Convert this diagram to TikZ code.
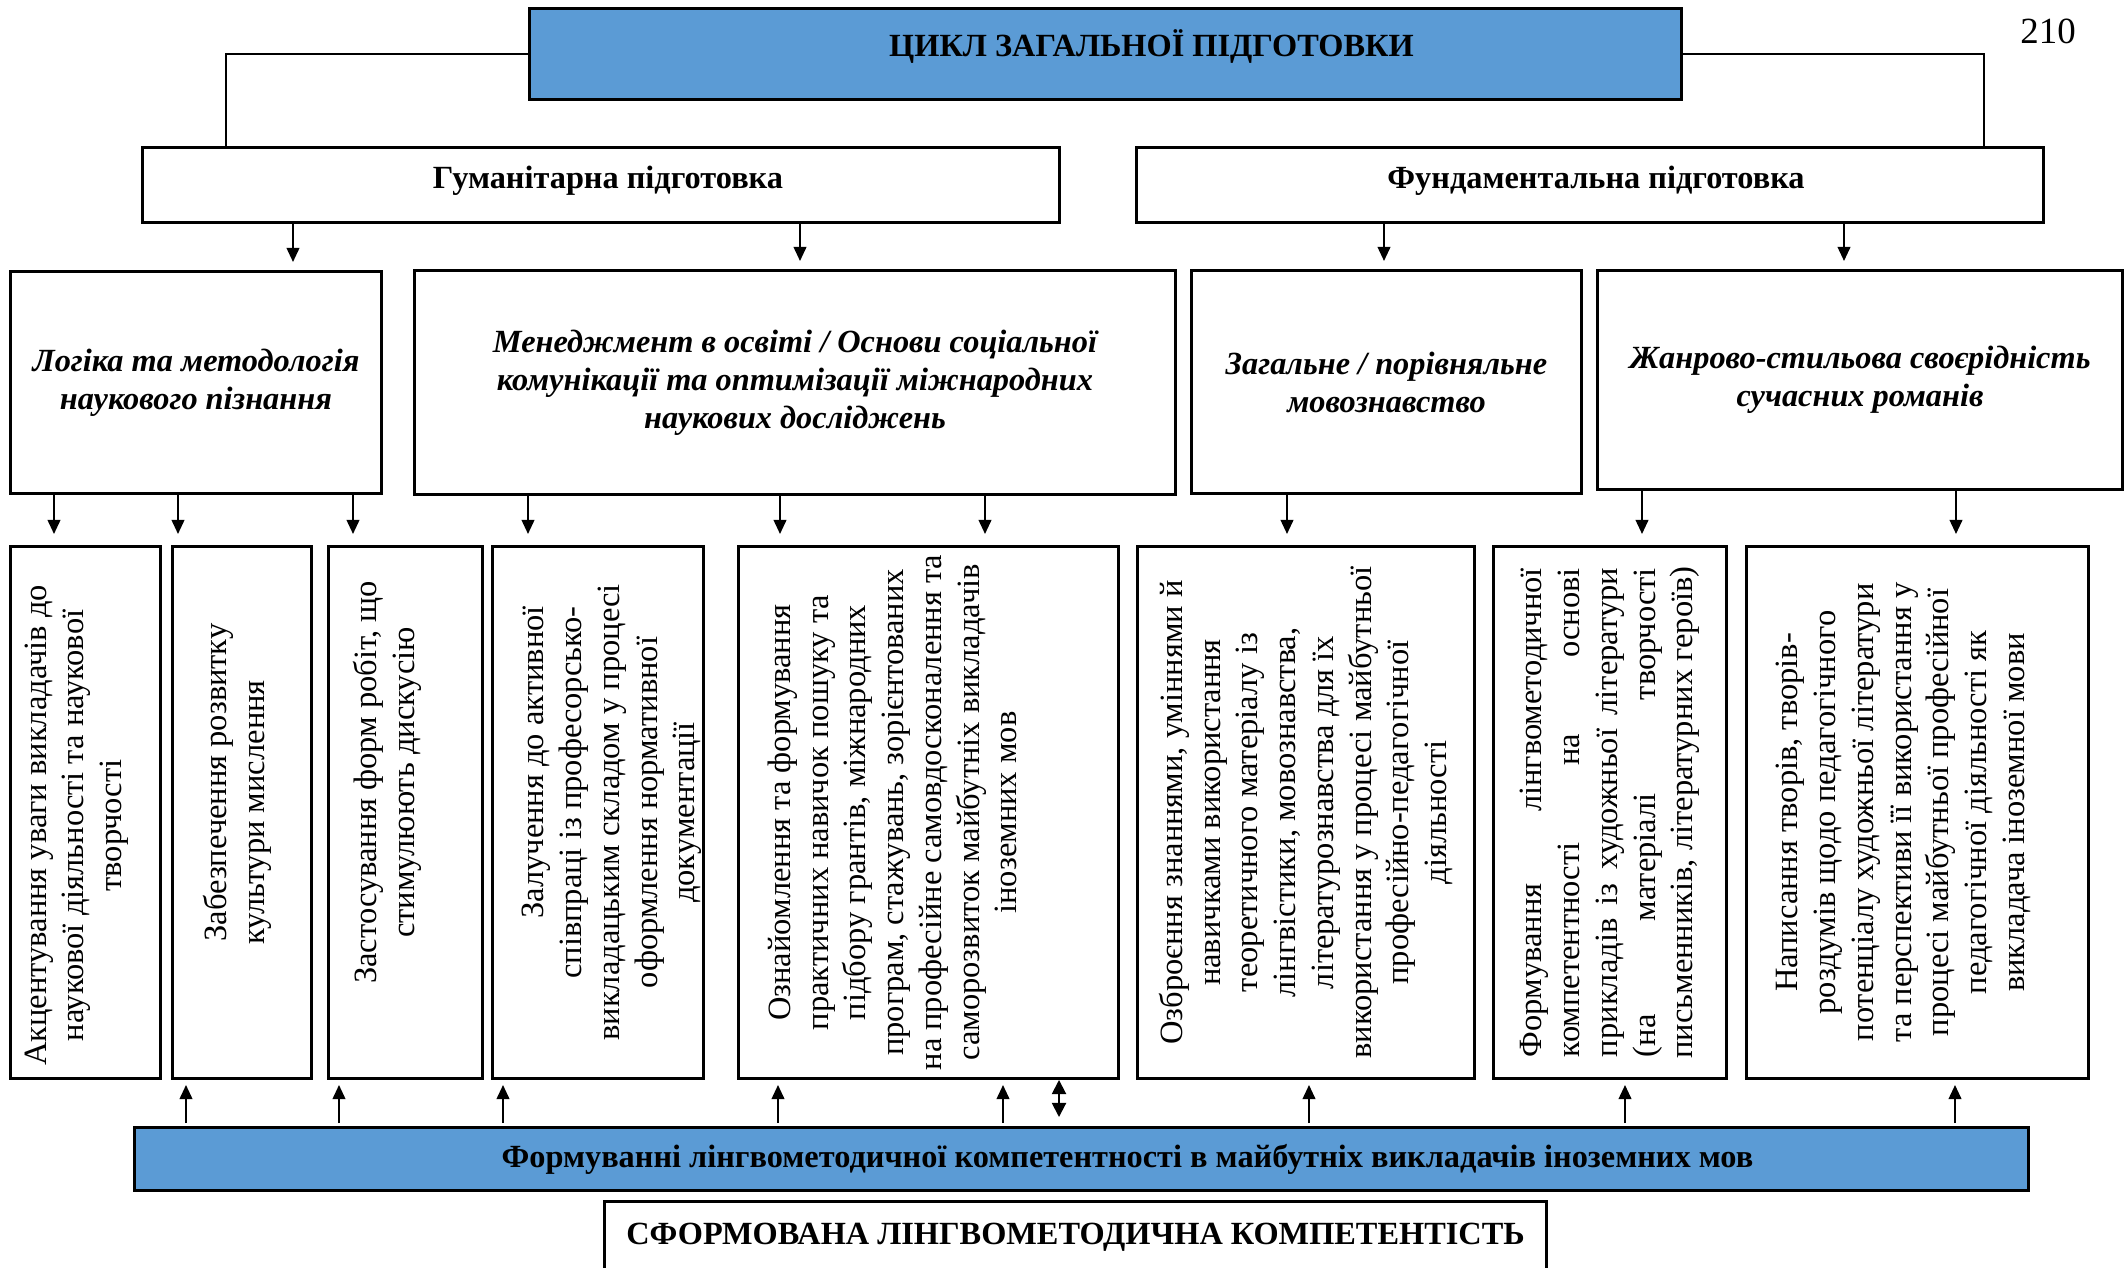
\documentclass[tikz,border=0pt]{standalone}
\usepackage{fontspec}
\setmainfont{Liberation Serif}
\usetikzlibrary{arrows.meta}
\definecolor{barblue}{HTML}{5B9BD5}
\tikzset{
    box/.style={draw, line width=0.85pt, anchor=north west, inner sep=0pt},
    hdr/.style={font=\fontsize{9.2pt}{10.9pt}\selectfont\bfseries},
    subj/.style={align=center, font=\fontsize{9.2pt}{10.8pt}\selectfont\bfseries\itshape},
    vtext/.style={rotate=90, align=center, inner sep=0pt, font=\fontsize{9.25pt}{10.75pt}\selectfont},
    link/.style={line width=0.55pt},
    arr/.style={link, -{Triangle[length=4pt,width=3.6pt]}},
}
\begin{document}
\begin{tikzpicture}
                \clip (0,0) rectangle (21.25,-12.68);

                \node[box, fill=barblue, hdr, minimum width=11.52cm, minimum height=0.91cm, text depth=0.21cm] (cycle) at (5.28,-0.07) {\hspace*{0.92cm}ЦИКЛ ЗАГАЛЬНОЇ ПІДГОТОВКИ};
                \node[font=\fontsize{10.5pt}{12pt}\selectfont] (page) at (20.48,-0.31) {210};

                \node[box, hdr, minimum width=9.17cm, minimum height=0.75cm, text depth=0.15cm] (hum) at (1.41,-1.46) {\hspace*{0.14cm}Гуманітарна підготовка};
                \node[box, hdr, minimum width=9.07cm, minimum height=0.75cm, text depth=0.15cm] (fund) at (11.35,-1.46) {\hspace*{0.12cm}Фундаментальна підготовка};

                \draw[link] (cycle.west) -| (2.26,0 |- hum.north);
                \draw[link] (cycle.east) -| (19.84,0 |- fund.north);

                \node[box, subj, minimum width=3.71cm, minimum height=2.22cm] (logic) at (0.09,-2.70) {Логіка та методологія\\наукового пізнання};
                \node[box, subj, minimum width=7.61cm, minimum height=2.24cm] (manage) at (4.13,-2.69) {Менеджмент в освіті / Основи соціальної\\комунікації та оптимізації міжнародних\\наукових досліджень};
                \node[box, subj, minimum width=3.90cm, minimum height=2.23cm] (ling) at (11.90,-2.69) {Загальне / порівняльне\\мовознавство};
                \node[box, subj, minimum width=5.25cm, minimum height=2.19cm] (genre) at (15.96,-2.69) {Жанрово-стильова своєрідність\\сучасних романів};

                \foreach \x/\n in {2.93/logic, 8.00/manage}
                    \draw[arr, shorten >=0.08cm] (\x,0 |- hum.south) -- (\x,0 |- \n.north);
                \foreach \x/\n in {13.84/ling, 18.44/genre}
                    \draw[arr, shorten >=0.08cm] (\x,0 |- fund.south) -- (\x,0 |- \n.north);

                \node[box, minimum width=1.50cm, minimum height=5.32cm] (a) at (0.09,-5.45) {};
                \node[box, minimum width=1.39cm, minimum height=5.32cm] (b) at (1.71,-5.45) {};
                \node[box, minimum width=1.54cm, minimum height=5.32cm] (c) at (3.27,-5.45) {};
                \node[box, minimum width=2.11cm, minimum height=5.32cm] (d) at (4.91,-5.45) {};
                \node[box, minimum width=3.80cm, minimum height=5.32cm] (e) at (7.37,-5.45) {};
                \node[box, minimum width=3.37cm, minimum height=5.32cm] (f) at (11.36,-5.45) {};
                \node[box, minimum width=2.33cm, minimum height=5.32cm] (g) at (14.92,-5.45) {};
                \node[box, minimum width=3.42cm, minimum height=5.32cm] (h) at (17.45,-5.45) {};

                \node[vtext] (a-t) at ([xshift=-0.09cm, yshift=-0.13cm]a.center) {Акцентування уваги викладачів до\\наукової діяльності та наукової\\творчості};
                \node[vtext] (b-t) at ([xshift=-0.05cm]b.center) {\hspace*{0.6cm}Забезпечення розвитку\\культури мислення};
                \node[vtext] (c-t) at ([xshift=-0.18cm, yshift=0.3cm]c.center) {Застосування форм робіт, що\\стимулюють дискусію};
                \node[vtext] (d-t) at ([xshift=0.14cm]d.center) {\hspace*{1.0cm}Залучення до активної\\\hspace*{0.4cm}співпраці із професорсько-\\викладацьким складом у процесі\\оформлення нормативної\\документації};
                \node[vtext] (e-t) at ([xshift=-0.36cm]e.center) {Ознайомлення та формування\\практичних навичок пошуку та\\підбору грантів, міжнародних\\програм, стажувань, зорієнтованих\\на професійне самовдосконалення та\\саморозвиток майбутніх викладачів\\іноземних мов};
                \node[vtext] (f-t) at (f.center) {Озброєння знаннями, уміннями й\\навичками використання\\теоретичного матеріалу із\\лінгвістики, мовознавства,\\літературознавства для їх\\використання у процесі майбутньої\\професійно-педагогічної\\діяльності};
                \node[vtext] (g-t) at (g.center) {\makebox[4.89cm][s]{Формування лінгвометодичної}\\\makebox[4.89cm][s]{компетентності на основі}\\\makebox[4.89cm][s]{прикладів із художньої літератури}\\\makebox[4.89cm][s]{(на матеріалі творчості}\\письменників, літературних героїв)};
                \node[vtext] (h-t) at ([xshift=-0.14cm]h.center) {Написання творів, творів-\\роздумів щодо педагогічного\\потенціалу художньої літератури\\та перспективи її використання у\\процесі майбутньої професійної\\педагогічної діяльності як\\викладача іноземної мови};

                \foreach \x/\n in {0.54/a, 1.78/b, 3.53/c}
                    \draw[arr, shorten >=0.11cm] (\x,0 |- logic.south) -- (\x,0 |- \n.north);
                \foreach \x/\n in {5.28/d, 7.80/e, 9.85/e}
                    \draw[arr, shorten >=0.11cm] (\x,0 |- manage.south) -- (\x,0 |- \n.north);
                \foreach \x/\n in {12.87/f}
                    \draw[arr, shorten >=0.11cm] (\x,0 |- ling.south) -- (\x,0 |- \n.north);
                \foreach \x/\n in {16.42/g, 19.56/h}
                    \draw[arr, shorten >=0.11cm] (\x,0 |- genre.south) -- (\x,0 |- \n.north);

                \node[box, fill=barblue, hdr, minimum width=18.94cm, minimum height=0.63cm] (bar) at (1.33,-11.26) {\hspace*{0.92cm}Формуванні лінгвометодичної компетентності в майбутніх викладачів іноземних мов};

                \foreach \x/\n in {1.86/b, 3.39/c, 5.03/d, 7.78/e, 10.03/e, 13.09/f, 16.25/g, 19.55/h}
                    \draw[arr, shorten <=0.03cm, shorten >=0.05cm] (\x,0 |- bar.north) -- (\x,0 |- \n.south);
                \draw[link, {Triangle[length=4pt,width=4pt]}-{Triangle[length=4pt,width=4pt]}, shorten >=0.09cm] (10.59,0 |- e.south) -- (10.59,0 |- bar.north);

                \node[box, hdr, minimum width=9.42cm, minimum height=1.0cm, text depth=0.35cm] (result) at (6.03,-12.00) {СФОРМОВАНА ЛІНГВОМЕТОДИЧНА КОМПЕТЕНТІСТЬ};
            \end{tikzpicture}
\end{document}
